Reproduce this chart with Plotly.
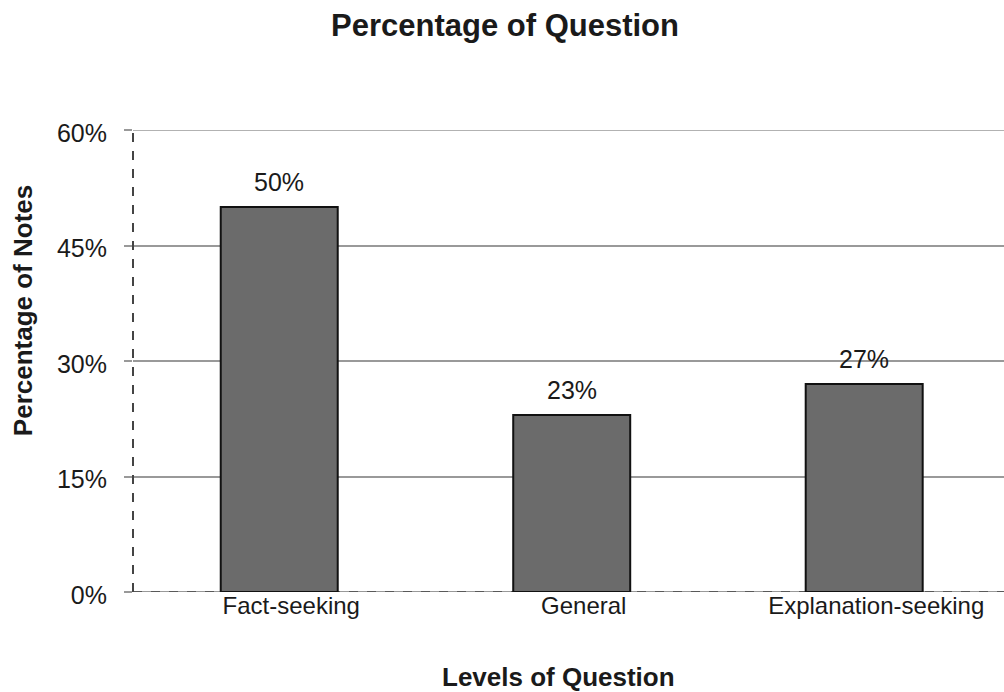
import plotly.graph_objects as go

# Question levels and share of notes
categories = ["Fact-seeking", "General", "Explanation-seeking"]
values = [0.50, 0.23, 0.27]
value_labels = ["50%", "23%", "27%"]
y_ticks = [0, 0.15, 0.30, 0.45, 0.60]
y_tick_labels = ["0%", "15%", "30%", "45%", "60%"]

FONT = "Liberation Sans, Arial, sans-serif"
TEXT = "#1a1a1a"

fig = go.Figure(
    go.Bar(
        x=categories,
        y=values,
        width=0.4,
        marker=dict(color="#6b6b6b", line=dict(color="#111111", width=2)),
        cliponaxis=False,
    )
)

# value labels above each bar
for cat, val, lab in zip(categories, values, value_labels):
    fig.add_annotation(
        x=cat, y=val, text=lab, showarrow=False,
        yanchor="bottom", yshift=9,
        font=dict(family=FONT, size=25, color=TEXT),
    )

# axis titles
fig.add_annotation(
    text="<b>Levels of Question</b>", xref="paper", yref="paper",
    x=0.489, y=-0.184, xanchor="center", yanchor="middle", showarrow=False,
    font=dict(family=FONT, size=26, color=TEXT),
)
fig.add_annotation(
    text="<b>Percentage of Notes</b>", xref="paper", yref="paper",
    x=-0.1263, y=0.61, xanchor="center", yanchor="middle", showarrow=False,
    textangle=-90,
    font=dict(family=FONT, size=26, color=TEXT),
)

fig.update_layout(
    width=1004,
    height=692,
    margin=dict(l=133, r=0, t=130, b=100),
    paper_bgcolor="white",
    plot_bgcolor="white",
    showlegend=False,
    title=dict(
        text="<b>Percentage of Question</b>",
        x=0.503,
        xanchor="center",
        y=0.963,
        yanchor="middle",
        font=dict(family=FONT, size=31, color=TEXT),
    ),
    xaxis=dict(
        range=[-0.5, 2.478],
        showgrid=False,
        showline=False,
        ticks="",
        tickfont=dict(family=FONT, size=24, color=TEXT),
        ticklabelstandoff=-3,
        ticklabelshift=12,
    ),
    yaxis=dict(
        range=[0, 0.6],
        tickvals=y_ticks,
        ticktext=y_tick_labels,
        showgrid=True,
        gridcolor="#999999",
        gridwidth=1.5,
        zeroline=False,
        showline=False,
        ticks="outside",
        ticklen=8,
        tickcolor="#999999",
        tickwidth=1.5,
        ticklabelstandoff=12,
        ticklabelshift=3,
        tickfont=dict(family=FONT, size=25, color=TEXT),
    ),
    shapes=[
        # top rule at 60%
        dict(type="line", xref="x domain", yref="y", x0=0, x1=1, y0=0.6, y1=0.6,
             line=dict(color="#999999", width=1.5), layer="below"),
        # baseline: grey rule with dark dashes on top
        dict(type="line", xref="x domain", yref="y", x0=0, x1=1, y0=0, y1=0,
             line=dict(color="#999999", width=2), layer="below"),
        dict(type="line", xref="x domain", yref="y", x0=0, x1=1, y0=0, y1=0,
             line=dict(color="#444444", width=1.5, dash="dash"), layer="below"),
        # dashed vertical axis
        dict(type="line", xref="x domain", yref="y domain", x0=0, x1=0, y0=0, y1=1,
             line=dict(color="#444444", width=2, dash="dash")),
    ],
)

fig.write_html("out.html")
